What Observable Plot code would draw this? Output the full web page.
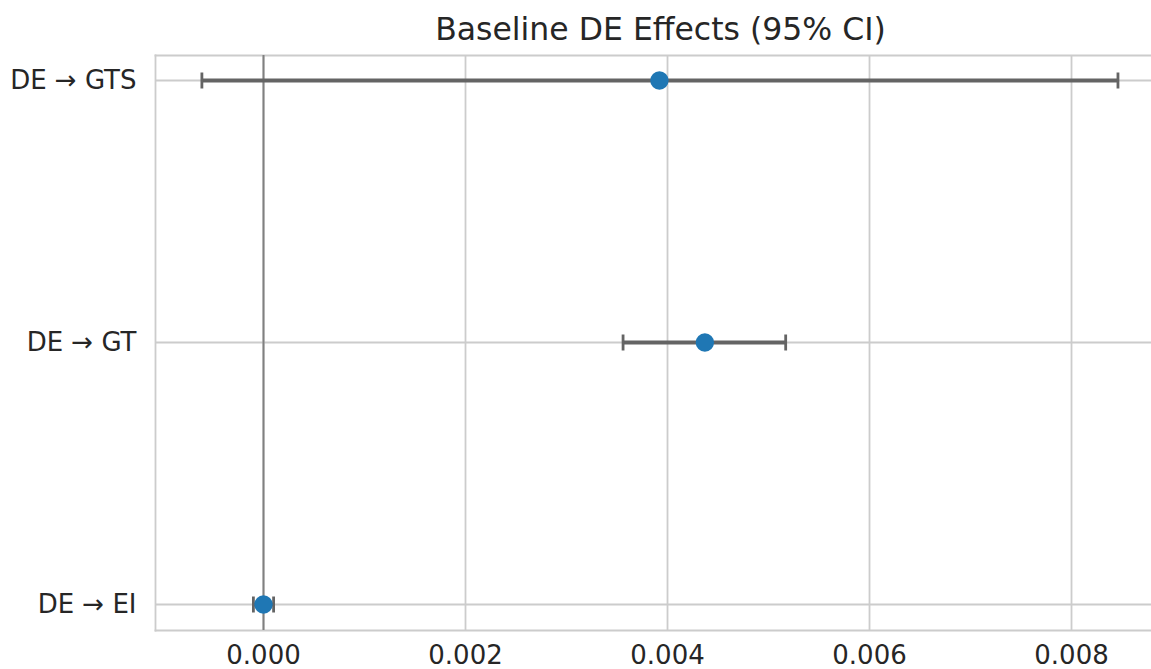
<!DOCTYPE html>
<html>
<head>
<meta charset="utf-8">
<script src="https://cdn.jsdelivr.net/npm/d3@7"></script>
<script src="https://cdn.jsdelivr.net/npm/@observablehq/plot@0.6"></script>
<style>
  html, body { margin: 0; padding: 0; background: #fff; }
  #chart svg { display: block; }
</style>
</head>
<body>
<div id="chart"></div>
<script>
const title = "Baseline DE Effects (95% CI)";
const labels = ["DE → GTS", "DE → GT", "DE → EI"];
const estimate = [0.00392, 0.00437, 0.00000];
const lower = [-0.00061, 0.00356, -0.00010];
const upper = [0.00846, 0.00517, 0.00010];
const xTicks = [0, 0.002, 0.004, 0.006, 0.008];

const data = labels.map((label, i) => ({label, est: estimate[i], lo: lower[i], hi: upper[i]}));

const capSymbol = {
  draw(ctx, size) {
    const h = Math.sqrt(size / Math.PI);
    ctx.moveTo(0, -h);
    ctx.lineTo(0, h);
  }
};

const font = "DejaVu Sans, sans-serif";
const chart = Plot.plot({
  width: 1151,
  height: 669,
  marginLeft: 155,
  marginRight: 0,
  marginTop: 55,
  marginBottom: 39,
  style: {fontFamily: font, fontSize: "26px", color: "#262626", background: "#fff"},
  x: {domain: [-0.0010693, 0.008792], ticks: xTicks, tickFormat: d3.format(".3f")},
  y: {type: "point", domain: labels, range: [80, 604], padding: 0},
  marks: [
    Plot.gridX(xTicks, {stroke: "#cccccc", strokeOpacity: 1, strokeWidth: 1.8}),
    Plot.gridY(labels, {stroke: "#cccccc", strokeOpacity: 1, strokeWidth: 1.8}),
    Plot.frame({anchor: "left", stroke: "#cccccc", strokeWidth: 1.8}),
    Plot.frame({anchor: "top", stroke: "#cccccc", strokeWidth: 1.8}),
    Plot.frame({anchor: "bottom", stroke: "#cccccc", strokeWidth: 1.8}),
    Plot.ruleX([0], {stroke: "#808080", strokeWidth: 2}),
    Plot.ruleY(data, {y: "label", x1: "lo", x2: "hi", stroke: "#646464", strokeWidth: 4}),
    Plot.dot(data, {x: "lo", y: "label", symbol: capSymbol, r: 8, stroke: "#646464", strokeWidth: 2.8, fill: "none"}),
    Plot.dot(data, {x: "hi", y: "label", symbol: capSymbol, r: 8, stroke: "#646464", strokeWidth: 2.8, fill: "none"}),
    Plot.dot(data, {x: "est", y: "label", r: 9.2, fill: "#1f77b4", stroke: "none"}),
    Plot.axisX({ticks: xTicks, tickSize: 0, tickPadding: 15, tickFormat: d3.format(".3f"), fontSize: 26, fill: "#262626", label: null}),
    Plot.axisY({tickSize: 0, tickPadding: 19, fontSize: 26, fill: "#262626", label: null}),
    Plot.text([title], {frameAnchor: "top", dx: 7, dy: -16, fontSize: 31.5, fill: "#262626", textAnchor: "middle", lineAnchor: "bottom"})
  ]
});
document.getElementById("chart").appendChild(chart);
</script>
</body>
</html>
